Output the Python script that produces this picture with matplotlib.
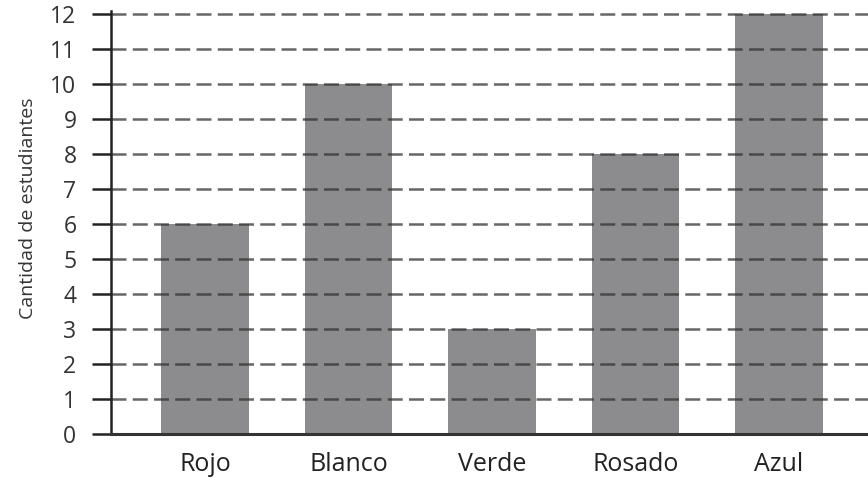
import matplotlib
matplotlib.use("Agg")
import matplotlib.pyplot as plt

categories = ["Rojo", "Blanco", "Verde", "Rosado", "Azul"]
values = [6, 10, 3, 8, 12]
yticks = list(range(0, 13))

plt.rcParams['font.family'] = ['Open Sans', 'DejaVu Sans']

fig = plt.figure(figsize=(8.68, 4.78), dpi=100)
ax = fig.add_axes([0.128, 0.092, 0.872, 0.884])

x = list(range(len(categories)))
ax.bar(x, values, width=0.61, color="#8c8c8e", zorder=1)

ax.set_xlim(-0.655, 4.62)
ax.set_ylim(0, 12.06)
ax.set_yticks(yticks)
ax.set_yticklabels([str(v) for v in yticks], fontsize=16.5, color="#333333")
ax.set_xticks(x)
ax.set_xticklabels(categories, fontsize=18, color="#222222")

for v in yticks[1:]:
    ax.axhline(v, color="#333333", alpha=0.75, lw=1.8, ls=(0, (6, 2.5)), zorder=2)

for s in ["top", "right"]:
    ax.spines[s].set_visible(False)
ax.spines["left"].set_linewidth(1.8)
ax.spines["bottom"].set_linewidth(2.2)
ax.spines["left"].set_color("#222222")
ax.spines["bottom"].set_color("#333333")

ax.tick_params(axis="y", length=14, width=1.8, color="#222222", pad=11)
ax.tick_params(axis="x", length=0, pad=13)

ax.set_ylabel("Cantidad de estudiantes", fontsize=14, color="#333333")
ax.yaxis.set_label_coords(-0.098, 0.535)

fig.savefig("out.png", dpi=100)
